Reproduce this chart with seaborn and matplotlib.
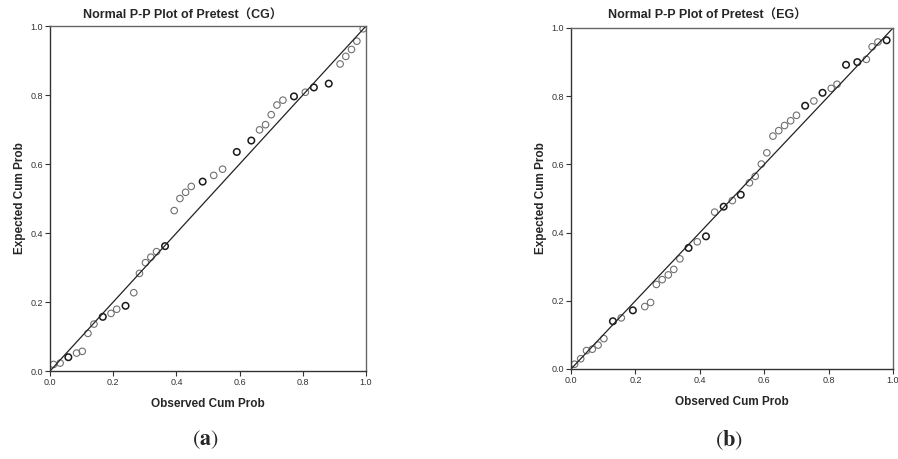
import numpy as np
import matplotlib
matplotlib.use("Agg")
import matplotlib.pyplot as plt
import seaborn as sns

# P-P values (observed, expected); ties = points drawn twice
cg_obs = [0.011, 0.032, 0.058, 0.084, 0.102, 0.120, 0.139, 0.167, 0.193, 0.211,
          0.239, 0.265, 0.283, 0.302, 0.319, 0.337, 0.364, 0.393, 0.411, 0.429,
          0.447, 0.483, 0.518, 0.546, 0.591, 0.637, 0.663, 0.682, 0.700, 0.718,
          0.737, 0.772, 0.808, 0.835, 0.882, 0.918, 0.936, 0.954, 0.971, 0.991]
cg_exp = [0.019, 0.023, 0.040, 0.052, 0.057, 0.109, 0.136, 0.157, 0.167, 0.179,
          0.189, 0.227, 0.283, 0.314, 0.330, 0.346, 0.362, 0.465, 0.500, 0.518,
          0.535, 0.549, 0.567, 0.585, 0.635, 0.668, 0.699, 0.714, 0.743, 0.771,
          0.785, 0.796, 0.808, 0.822, 0.833, 0.890, 0.912, 0.932, 0.956, 0.992]
cg_ties = [1, 1, 2, 1, 1, 1, 1, 2, 1, 1,
           2, 1, 1, 1, 1, 1, 2, 1, 1, 1,
           1, 2, 1, 1, 2, 2, 1, 1, 1, 1,
           1, 2, 1, 2, 2, 1, 1, 1, 1, 1]

eg_obs = [0.011, 0.030, 0.048, 0.066, 0.084, 0.102, 0.130, 0.156, 0.192, 0.229,
          0.247, 0.265, 0.283, 0.302, 0.319, 0.338, 0.365, 0.392, 0.419, 0.446,
          0.474, 0.501, 0.527, 0.554, 0.572, 0.591, 0.608, 0.627, 0.645, 0.663,
          0.682, 0.700, 0.727, 0.754, 0.781, 0.808, 0.826, 0.854, 0.889, 0.917,
          0.935, 0.953, 0.980]
eg_exp = [0.014, 0.030, 0.054, 0.058, 0.070, 0.089, 0.140, 0.150, 0.172, 0.183,
          0.195, 0.248, 0.262, 0.276, 0.292, 0.323, 0.355, 0.373, 0.389, 0.460,
          0.476, 0.494, 0.511, 0.546, 0.565, 0.601, 0.634, 0.683, 0.699, 0.714,
          0.728, 0.744, 0.772, 0.786, 0.810, 0.823, 0.835, 0.892, 0.900, 0.908,
          0.945, 0.959, 0.964]
eg_ties = [1, 1, 1, 1, 1, 1, 2, 1, 2, 1,
           1, 1, 1, 1, 1, 1, 2, 1, 2, 1,
           2, 1, 2, 1, 1, 1, 1, 1, 1, 1,
           1, 1, 2, 1, 2, 1, 1, 2, 2, 1,
           1, 1, 2]

ref_line = [0.0, 1.0]
ticks = [0.0, 0.2, 0.4, 0.6, 0.8, 1.0]
groups = ["CG", "EG"]
panel_tags = ["a", "b"]

sns.set_theme(style="white")
plt.rcParams['font.family'] = ['Liberation Sans', 'Noto Sans CJK SC', 'DejaVu Sans']

fig = plt.figure(figsize=(8.98, 4.59), dpi=100)
axes_pos = [[0.0557, 0.1917, 0.3519, 0.7516],
            [0.6359, 0.1961, 0.3586, 0.7429]]

data = [(cg_obs, cg_exp, cg_ties), (eg_obs, eg_exp, eg_ties)]

for i, (obs, exp, ties) in enumerate(data):
    ax = fig.add_axes(axes_pos[i])
    obs = np.array(obs)
    exp = np.array(exp)
    ties = np.array(ties)

    sns.lineplot(x=ref_line, y=ref_line, ax=ax, color="#222222", linewidth=0.9)
    single = ties == 1
    sns.scatterplot(x=obs[single], y=exp[single], ax=ax, marker="o", s=22,
                    facecolor="none", edgecolor="#707070", linewidth=0.8)
    sns.scatterplot(x=obs[~single], y=exp[~single], ax=ax, marker="o", s=22,
                    facecolor="none", edgecolor="#1a1a1a", linewidth=1.1)

    ax.set_xlim(0, 1)
    ax.set_ylim(0, 1)
    ax.set_xticks(ticks)
    ax.set_yticks(ticks)
    ax.set_xticklabels([f"{t:.1f}" for t in ticks])
    ax.set_yticklabels([f"{t:.1f}" for t in ticks])
    ax.tick_params(axis="both", which="major", direction="out", length=3.5,
                   width=0.8, color="#333333", labelsize=6.5,
                   labelcolor="#333333", pad=1.5, bottom=True, left=True)
    for side, sp in ax.spines.items():
        sp.set_visible(True)
        sp.set_linewidth(1.0)
        sp.set_color("#333333" if side in ("left", "bottom") else "#666666")

    ax.set_xlabel("Observed Cum Prob", fontsize=8.5, fontweight="bold",
                  labelpad=8)
    ax.set_ylabel("Expected Cum Prob", fontsize=8.5, fontweight="bold",
                  labelpad=3)

    x0, y0, w, h = axes_pos[i]
    fig.text(x0 + w / 2 - 25 / 898, 1 - 16 / 459,
             f"Normal P-P Plot of Pretest（{groups[i]}）",
             ha="center", va="center", fontsize=9, fontweight="bold")
    fig.text(x0 + w / 2 - 3 / 898, 1 - 440 / 459,
             f"($\\mathbf{{{panel_tags[i]}}}$)",
             ha="center", va="center", fontsize=16, family="STIXGeneral",
             math_fontfamily="stix")

fig.savefig("out.png", dpi=100)
